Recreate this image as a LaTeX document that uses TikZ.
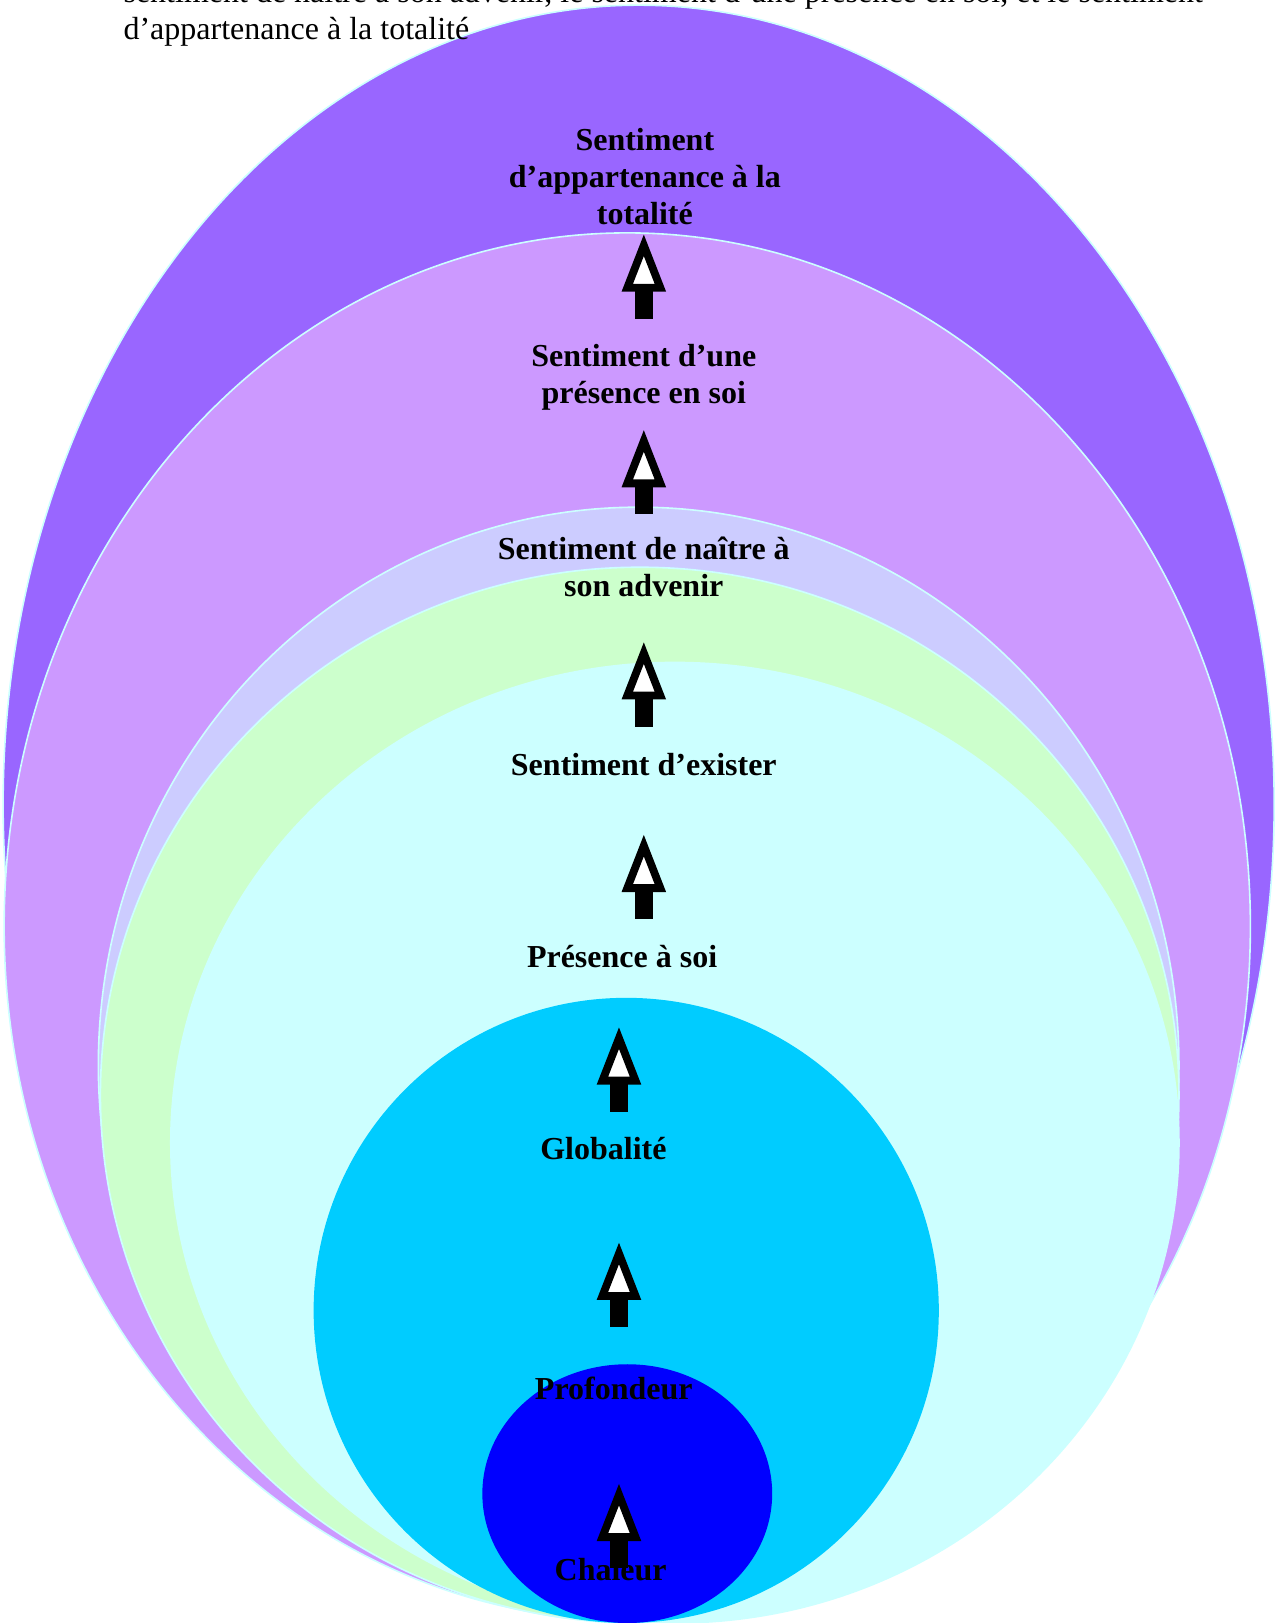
\documentclass[tikz,border=0pt]{standalone}
\usepackage{fontspec}
\setmainfont{Liberation Serif}
\usepackage{tikz}
\usetikzlibrary{positioning}
\definecolor{ring violet}{HTML}{9966FF}
\definecolor{ring lilac}{HTML}{CC99FF}
\definecolor{ring lavender}{HTML}{CCCCFF}
\definecolor{ring green}{HTML}{CCFFCC}
\definecolor{ring pale}{HTML}{CCFFFF}
\definecolor{ring cyan}{HTML}{00CCFF}
\definecolor{ring blue}{HTML}{0000FF}
\colorlet{ring edge}{ring pale}
\tikzset{ring/.style={draw=ring edge, line width=0.8pt},
    core/.style={draw=none},
    stage/.style={inner sep=0pt, anchor=base, align=center,
        font=\fontsize{16}{18.6}\selectfont\bfseries},
    intro/.style={inner sep=0pt, anchor=base west,
        font=\fontsize{16}{18.6}\selectfont},
    headshape/.style={fill=white, draw=black, line width=3.9pt},
    uparrow/.pic={
	\fill[black] (-8.5,52) rectangle (8.5,82);
	\draw[headshape] (0,11) -- (16,52) -- (-16,52) -- cycle;
    }}

\begin{document}
\begin{tikzpicture}[x=0.5175pt,y=-0.5175pt]
\useasboundingbox (0,0) rectangle (1232,1568);
\begin {scope}
	\clip (0,0) rectangle (1232,1568);
	\fill[ring, fill=ring violet] (617,777) ellipse [x radius=614, y radius=772];
	\fill[ring, fill=ring lilac] (606,895) ellipse [x radius=602, y radius=670];
	\fill[ring, fill=ring lavender] (617,1029) ellipse [x radius=522, y radius=539];
	\fill[ring, fill=ring green] (618,1058) ellipse [x radius=521, y radius=510];
	\fill[ring, fill=ring pale] (652,1104) ellipse [x radius=487, y radius=464];
	\fill[core, fill=ring cyan] (605,1266) ellipse [x radius=302, y radius=302];
	\fill[core, fill=ring blue] (606,1443) ellipse [x radius=140, y radius=125];
\end{scope}
	\node[intro] (intro1) at (119,2) {sentiment de naître à son advenir, le sentiment d’une présence en soi, et le sentiment};
	\node[intro] (intro2) at (119,38) {d’appartenance à la totalité};
	\node[stage] (totalite) at (623,217) {Sentiment\\d’appartenance à la\\totalité};
	\node[stage] (unepresence) at (622,390) {Sentiment d’une\\présence en soi};
	\node[stage] (naitre) at (622,576) {Sentiment de naître à\\son advenir};
	\node[stage] (exister) at (622,749) {Sentiment d’exister};
	\node[stage] (presence) at (601,935) {Présence à soi};
	\node[stage] (globalite) at (583,1120) {Globalité};
	\node[stage] (profondeur) at (593,1352) {Profondeur};
	\pic (arr1) at (598,1433) {uparrow};
	\node[stage] (chaleur) at (590,1527) {Chaleur};
	\pic (arr2) at (598,1200) {uparrow};
	\pic (arr3) at (598,992) {uparrow};
	\pic (arr4) at (622,806) {uparrow};
	\pic (arr5) at (622,620) {uparrow};
	\pic (arr6) at (622,415) {uparrow};
	\pic (arr7) at (622,226) {uparrow};
\end{tikzpicture}
\end{document}
